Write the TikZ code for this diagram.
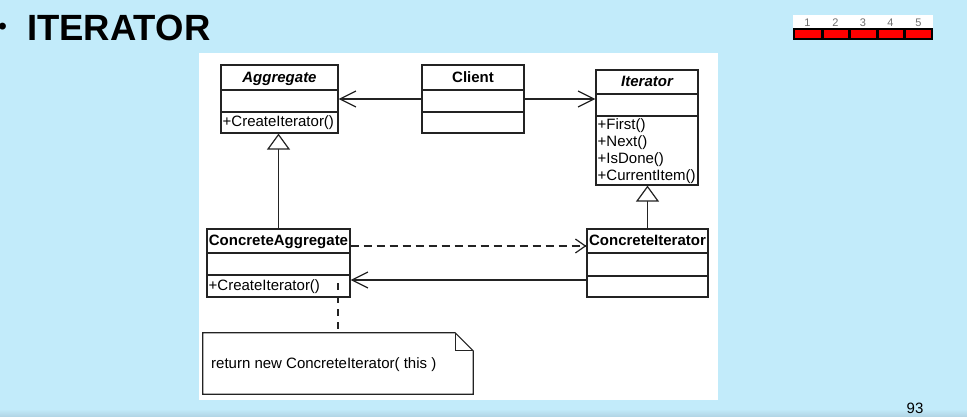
\documentclass[tikz,border=0pt]{standalone}
\usepackage{fontspec}
\setmainfont{Liberation Sans}
\usetikzlibrary{arrows.meta}
\definecolor{slidebg}{RGB}{194,235,250}
\definecolor{slidebot}{RGB}{178,214,230}
\definecolor{redcell}{RGB}{255,0,0}
\definecolor{numgray}{RGB}{110,110,110}
\definecolor{linegray}{RGB}{35,35,35}
\tikzset{
  umlbox/.style={draw=linegray, line width=1.2pt, fill=white, inner sep=0pt, rectangle},
  notebox/.style={inner sep=0pt, rectangle},
  umlline/.style={draw=linegray, line width=1.2pt},
  umltext/.style={inner sep=0pt, font=\fontsize{15}{17}\selectfont, anchor=base west},
  umlname/.style={inner sep=0pt, font=\fontsize{15}{17}\selectfont\bfseries, anchor=base},
  assoc/.style={umlline, -{Straight Barb[length=16pt,width=16pt]}},
  depend/.style={umlline, dash pattern=on 8pt off 5pt, -{Straight Barb[length=10pt,width=14pt]}},
  inherit/.style={umlline, -{Triangle[open,length=16pt,width=23pt,fill=white]}},
  notelink/.style={umlline, dash pattern=on 7pt off 6pt},
  numtext/.style={inner sep=0pt, font=\fontsize{11}{12}\selectfont, text=numgray, anchor=base},
}
\begin{document}
\begin{tikzpicture}[x=1pt,y=-1pt]
\useasboundingbox (0,0) rectangle (967,416);
% background
\fill[slidebg] (0,0) rectangle (967,416);
\shade[top color=slidebg, bottom color=slidebot] (0,409) rectangle (967,416);
\fill[white] (199,53) rectangle (718,400);

% title
\node[inner sep=0pt, font=\fontsize{24}{24}\selectfont\bfseries] (bullet) at (2.5,28.5) {•};
\node[inner sep=0pt, font=\fontsize{36.5}{38}\selectfont\bfseries, anchor=base west] (title) at (27,40) {ITERATOR};

% progress indicator
\fill[white] (793,15) rectangle (933,28);
\fill[black] (793,28) rectangle (933,39.5);
\foreach \a/\b in {795/820.5, 823.5/847.5, 850.5/875.5, 878.5/902.5, 905.5/931} {
  \fill[redcell] (\a,29.8) rectangle (\b,37.7);
}
\node[numtext] (n1) at (807.5,26) {1};
\node[numtext] (n2) at (835.5,26) {2};
\node[numtext] (n3) at (863,26) {3};
\node[numtext] (n4) at (890.5,26) {4};
\node[numtext] (n5) at (918.5,26) {5};

% classes
\node[umlbox, minimum width=117pt, minimum height=68pt] (agg) at (279.5,99) {};
\draw[umlline] (agg.west |- 0,90) -- (agg.east |- 0,90);
\draw[umlline] (agg.west |- 0,112) -- (agg.east |- 0,112);
\node[umlname] (aggname) at (279.5,82) {\itshape Aggregate};
\node[umltext] (aggm) at (222.5,126) {+CreateIterator()};

\node[umlbox, minimum width=102pt, minimum height=68pt] (client) at (473,99) {};
\draw[umlline] (client.west |- 0,90) -- (client.east |- 0,90);
\draw[umlline] (client.west |- 0,112) -- (client.east |- 0,112);
\node[umlname] (clientname) at (473,82) {Client};

\node[umlbox, minimum width=102pt, minimum height=115pt] (it) at (647,127.5) {};
\draw[umlline] (it.west |- 0,94) -- (it.east |- 0,94);
\draw[umlline] (it.west |- 0,116) -- (it.east |- 0,116);
\node[umlname] (itname) at (647,86.5) {\itshape Iterator};
\node[umltext] (itm1) at (597.5,129) {+First()};
\node[umltext] (itm2) at (597.5,146) {+Next()};
\node[umltext] (itm3) at (597.5,163) {+IsDone()};
\node[umltext] (itm4) at (597.5,180) {+CurrentItem()};

\node[umlbox, minimum width=143pt, minimum height=68pt] (ca) at (278.5,263) {};
\draw[umlline] (ca.west |- 0,253) -- (ca.east |- 0,253);
\draw[umlline] (ca.west |- 0,275) -- (ca.east |- 0,275);
\node[umlname] (caname) at (278.5,245.5) {ConcreteAggregate};
\node[umltext] (cam) at (208.5,290) {+CreateIterator()};

\node[umlbox, minimum width=121pt, minimum height=68pt] (ci) at (647.5,263) {};
\draw[umlline] (ci.west |- 0,253) -- (ci.east |- 0,253);
\draw[umlline] (ci.west |- 0,276) -- (ci.east |- 0,276);
\node[umlname] (ciname) at (647.5,245.5) {ConcreteIterator};

% note
\node[notebox, minimum width=270pt, minimum height=61pt] (note) at (338,363.5) {};
\draw[umlline, fill=white] (note.north west) -- ([xshift=-18pt]note.north east)
  -- ([yshift=-18pt]note.north east) -- (note.south east) -- (note.south west) -- cycle;
\draw[umlline] ([xshift=-18pt]note.north east) -- ([xshift=-18pt,yshift=-18pt]note.north east)
  -- ([yshift=-18pt]note.north east);
\node[umltext] (notetext) at (211,368) {return new ConcreteIterator( this )};

% connectors
\draw[assoc] (client.west) -- (agg.east);
\draw[assoc] (client.east) -- (client.east -| it.west);
\draw[inherit] (ca.north) -- (ca.north |- agg.south);
\draw[inherit] (ci.north) -- (ci.north |- it.south);
\draw[depend] ([yshift=17pt]ca.east) -- ([yshift=17pt]ca.east -| ci.west);
\draw[assoc] ([yshift=-17pt]ci.west) -- ([yshift=-17pt]ci.west -| ca.east);
\coordinate (caanchor) at (338,283);
\draw[notelink] (caanchor) -- (caanchor |- note.north);

% page number
\node[inner sep=0pt, font=\fontsize{15}{15}\selectfont, anchor=base] (pagenum) at (915,413.5) {93};
\end{tikzpicture}
\end{document}
